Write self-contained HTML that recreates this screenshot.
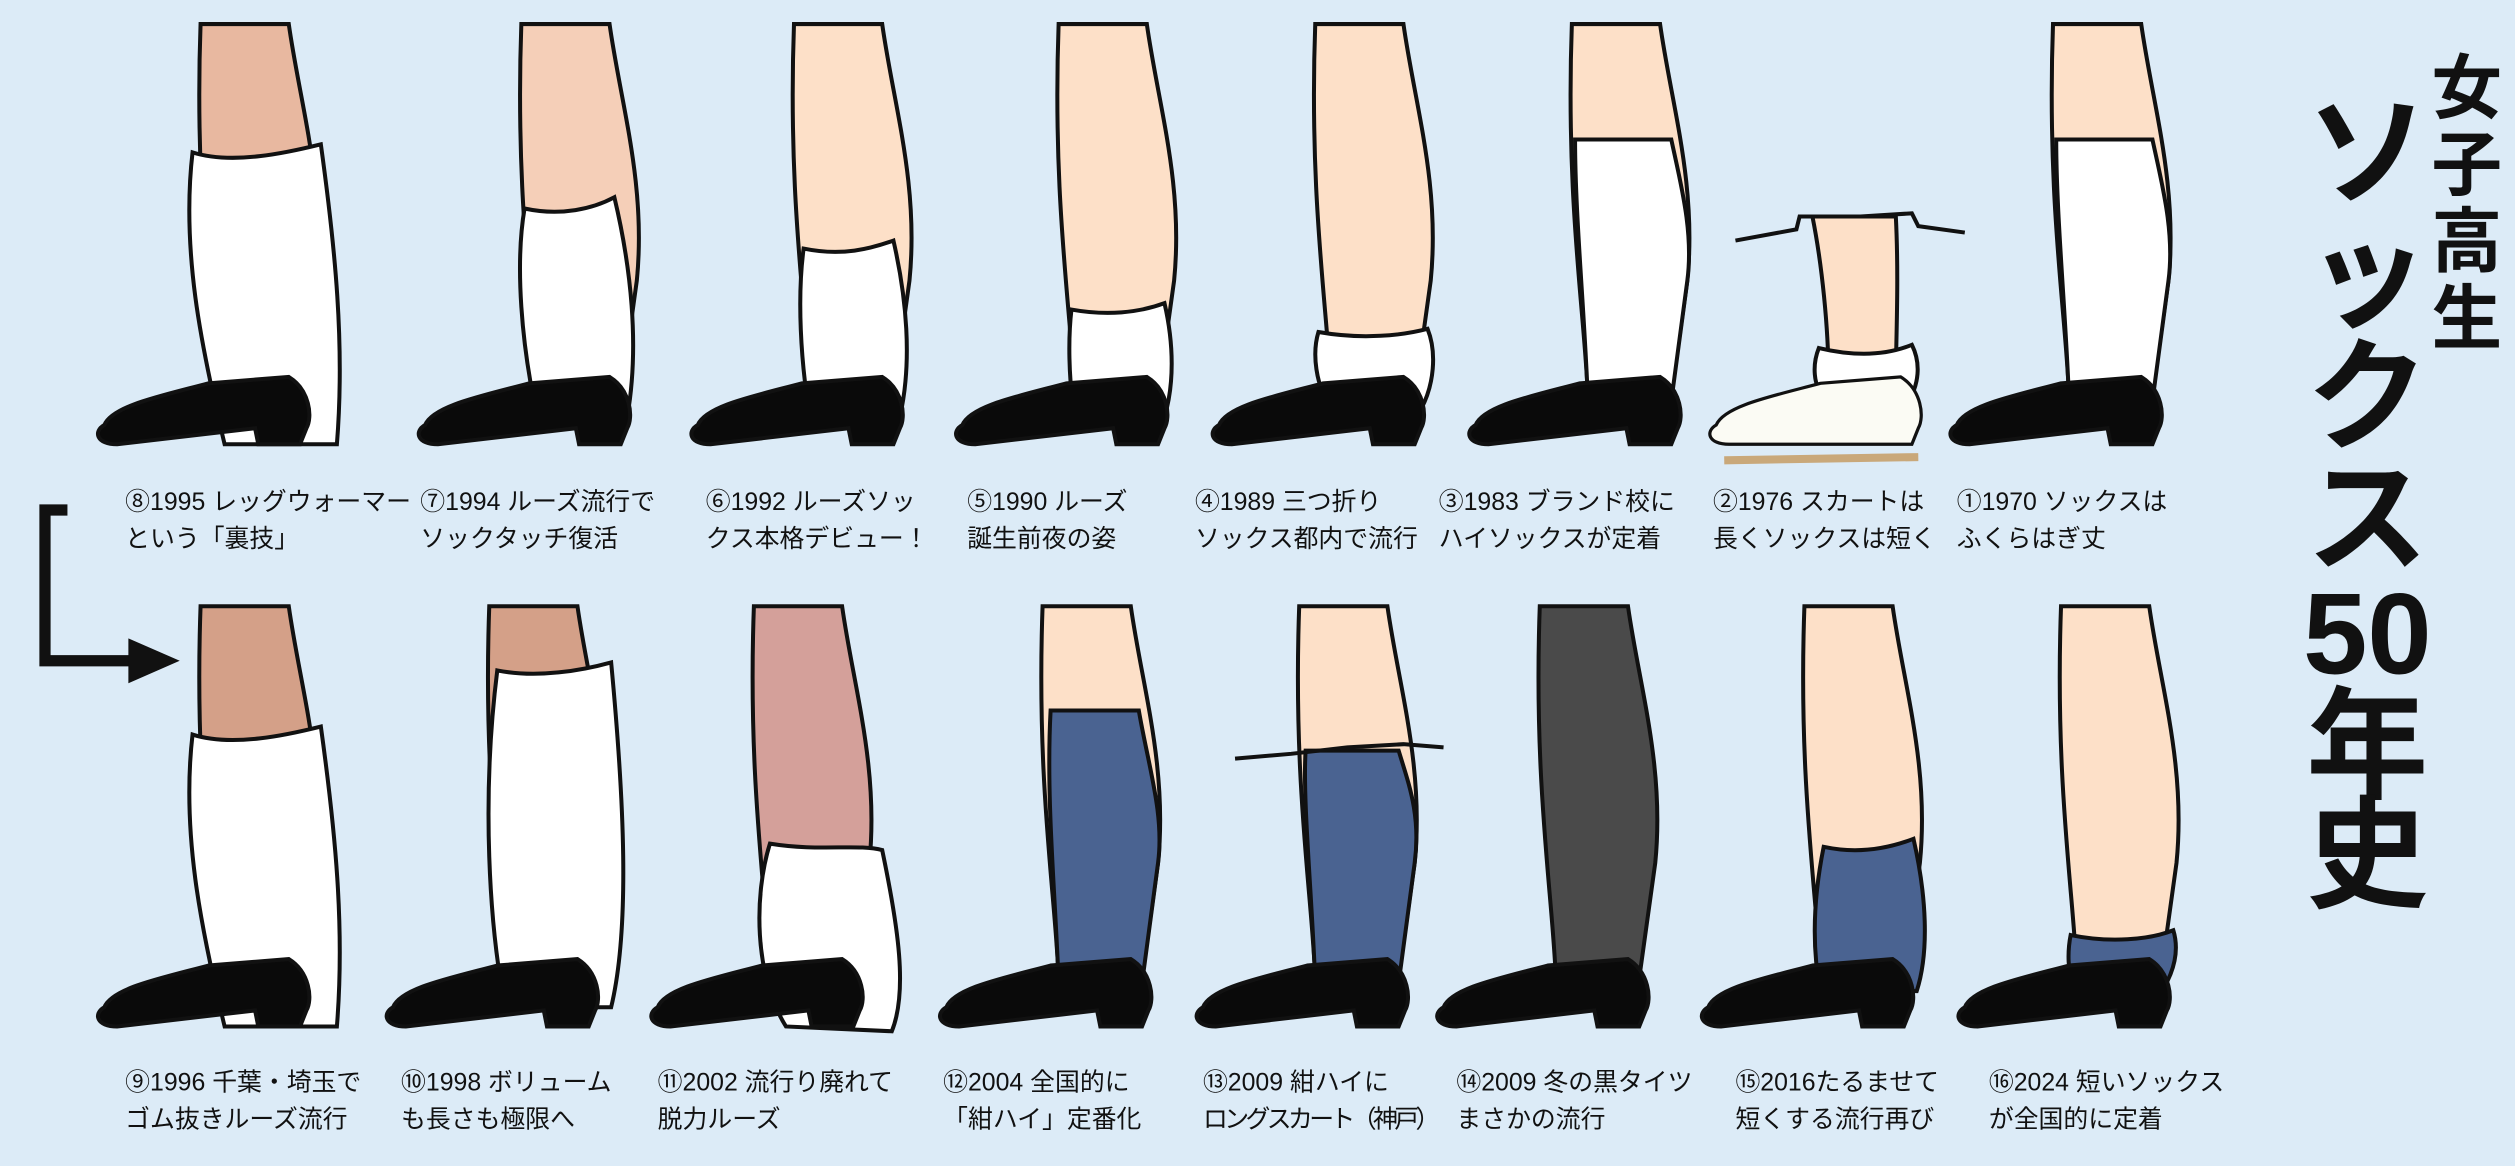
<!DOCTYPE html>
<html><head><meta charset="utf-8"><style>
html,body{margin:0;padding:0;background:#dcebf7;}
svg{display:block;}
text{font-family:"Liberation Sans","Noto Sans CJK JP",sans-serif;fill:#111;}
</style></head><body>
<svg width="2515" height="1166" viewBox="0 0 1568 727" xmlns="http://www.w3.org/2000/svg">
<rect width="1568" height="727" fill="#dcebf7"/>
<defs>
<path id="leg" d="M0,0 L55,0 C62,50 78,100 72,160 L62,232 L10,232 C8,180 -4,110 0,0 Z" stroke="#111" stroke-width="2.5"/>
<path id="shoe" d="M-60,250 C-55,238 -25,232 5,224 L55,220 C68,228 70,245 66,252 L62,262 L36,262 L34,252 L-52,262 C-65,262 -67,254 -60,250Z" fill="#0a0a0a"/>
<path id="shoeW" d="M-60,250 C-55,238 -25,232 5,224 L55,220 C68,228 70,245 66,252 L62,262 L-52,262 C-65,262 -67,254 -60,250Z" fill="#fbfbf4" stroke="#111" stroke-width="2"/>
<path id="hi" d="M2,72 L62,72 C68,100 76,130 72,160 L62,235 L10,235 C8,180 2,120 2,72Z"/>
</defs>
<g stroke="#111" stroke-width="2.5">
<g transform="translate(125,15)"><use href="#leg" fill="#e8b8a0"/><path d="M-5,80 C20,88 55,80 75,75 C84,140 90,200 85,262 L15,262 C0,200 -12,140 -5,80Z" fill="#fff"/><use href="#shoe"/></g>
<g transform="translate(325,15)"><use href="#leg" fill="#f5cfb8"/><path d="M2,115 C25,120 45,115 58,108 C68,150 74,200 66,245 L10,245 C0,200 -4,150 2,115Z" fill="#fff"/><use href="#shoe"/></g>
<g transform="translate(495,15)"><use href="#leg" fill="#fde0c8"/><path d="M6,140 C30,145 48,140 62,135 C70,170 74,210 66,245 L10,245 C4,210 2,170 6,140Z" fill="#fff"/><use href="#shoe"/></g>
<g transform="translate(660,15)"><use href="#leg" fill="#fde0c8"/><path d="M8,178 C30,182 50,180 66,174 C72,200 72,225 66,245 L10,245 C6,220 6,195 8,178Z" fill="#fff"/><use href="#shoe"/></g>
<g transform="translate(820,15)"><use href="#leg" fill="#fde0c8"/><path d="M2,192 C30,197 55,194 70,190 C76,205 74,225 66,240 L10,240 C0,225 -2,205 2,192Z" fill="#fff"/><use href="#shoe"/></g>
<g transform="translate(980,15)"><use href="#leg" fill="#fde0c8"/><use href="#hi" fill="#fff"/><use href="#shoe"/></g>
<g transform="translate(1130,15)"><path d="M0,120 L52,120 C54,160 52,200 52,220 L10,220 C10,190 6,150 0,120Z" fill="#fde0c8"/><path d="M4,202 C25,207 45,207 62,200 C68,212 66,225 60,235 L8,235 C0,225 0,212 4,202Z" fill="#fff"/><use href="#shoeW"/><path d="M-48,135 L-10,128 L-8,120 L30,120 L62,118 L66,126 L95,130" fill="none"/><path d="M-55,272 L66,270" stroke="#c9a87a" stroke-width="5"/></g>
<g transform="translate(1280,15)"><use href="#leg" fill="#fde0c8"/><use href="#hi" fill="#fff"/><use href="#shoe"/></g>
<g transform="translate(125,378)"><use href="#leg" fill="#d4a088"/><path d="M-5,80 C20,88 55,80 75,75 C84,140 90,200 85,262 L15,262 C0,200 -12,140 -5,80Z" fill="#fff"/><use href="#shoe"/></g>
<g transform="translate(305,378)"><use href="#leg" fill="#d4a088"/><path d="M5,40 C30,45 58,40 76,35 C84,120 88,200 76,250 L10,250 C0,200 -5,120 5,40Z" fill="#fff"/><use href="#shoe"/></g>
<g transform="translate(470,378)"><use href="#leg" fill="#d4a09a"/><path d="M10,148 C40,153 65,148 80,152 C90,200 96,240 86,265 L20,262 C0,230 0,180 10,148Z" fill="#fff"/><use href="#shoe"/></g>
<g transform="translate(650,378)"><use href="#leg" fill="#fde0c8"/><path d="M5,65 L60,65 C66,100 76,130 72,160 L62,235 L10,235 C8,180 2,120 5,65Z" fill="#4a6391"/><use href="#shoe"/></g>
<g transform="translate(810,378)"><use href="#leg" fill="#fde0c8"/><path d="M4,90 L62,90 C68,110 76,130 72,160 L62,235 L10,235 C8,180 2,120 4,90Z" fill="#4a6391"/><use href="#shoe"/><path d="M-40,95 L-5,92 L30,88 L65,86 L90,88" fill="none"/></g>
<g transform="translate(960,378)"><use href="#leg" fill="#4a4a4a"/><use href="#shoe"/></g>
<g transform="translate(1125,378)"><path d="M0,0 L55,0 C62,50 78,100 72,160 L62,232 L10,232 C8,180 -4,110 0,0 Z" fill="#fde0c8"/><path d="M12,150 C35,155 55,150 68,145 C76,180 78,215 70,240 L10,240 C4,210 6,180 12,150Z" fill="#4a6391"/><use href="#shoe"/></g>
<g transform="translate(1285,378)"><use href="#leg" fill="#fde0c8"/><path d="M6,205 C30,210 55,208 70,202 C74,215 70,228 64,238 L8,238 C4,228 4,215 6,205Z" fill="#4a6391"/><use href="#shoe"/></g>
</g>
<path d="M42,318 L28,318 L28,412 L85,412" fill="none" stroke="#111" stroke-width="7"/>
<path d="M80,398 L112,412 L80,426Z" fill="#111"/>
<g font-size="15.5">
<text x="78" y="318">⑧1995 レッグウォーマー</text><text x="78" y="341">という「裏技」</text>
<text x="262" y="318">⑦1994 ルーズ流行で</text><text x="262" y="341">ソックタッチ復活</text>
<text x="440" y="318">⑥1992 ルーズソッ</text><text x="440" y="341">クス本格デビュー！</text>
<text x="603" y="318">⑤1990 ルーズ</text><text x="603" y="341">誕生前夜の姿</text>
<text x="745" y="318">④1989 三つ折り</text><text x="745" y="341">ソックス都内で流行</text>
<text x="897" y="318">③1983 ブランド校に</text><text x="897" y="341">ハイソックスが定着</text>
<text x="1068" y="318">②1976 スカートは</text><text x="1068" y="341">長くソックスは短く</text>
<text x="1220" y="318">①1970 ソックスは</text><text x="1220" y="341">ふくらはぎ丈</text>
<text x="78" y="680">⑨1996 千葉・埼玉で</text><text x="78" y="703">ゴム抜きルーズ流行</text>
<text x="250" y="680">⑩1998 ボリューム</text><text x="250" y="703">も長さも極限へ</text>
<text x="410" y="680">⑪2002 流行り廃れて</text><text x="410" y="703">脱力ルーズ</text>
<text x="588" y="680">⑫2004 全国的に</text><text x="588" y="703">「紺ハイ」定番化</text>
<text x="750" y="680">⑬2009 紺ハイに</text><text x="750" y="703" textLength="148">ロングスカート（神戸）</text>
<text x="908" y="680">⑭2009 冬の黒タイツ</text><text x="908" y="703">まさかの流行</text>
<text x="1082" y="680">⑮2016たるませて</text><text x="1082" y="703">短くする流行再び</text>
<text x="1240" y="680">⑯2024 短いソックス</text><text x="1240" y="703">が全国的に定着</text>
</g>
<g font-size="44" text-anchor="middle" font-weight="bold">
<text x="1538" y="70">女</text><text x="1538" y="118">子</text><text x="1538" y="166">高</text><text x="1538" y="214">生</text>
</g>
<g font-size="76" text-anchor="middle" font-weight="bold">
<text x="1476" y="122">ソ</text><text x="1476" y="198">ッ</text><text x="1476" y="274">ク</text><text x="1476" y="350">ス</text>
<text x="1476" y="420" font-size="72">50</text><text x="1476" y="492">年</text><text x="1476" y="560">史</text>
</g>
</svg>
</body></html>
